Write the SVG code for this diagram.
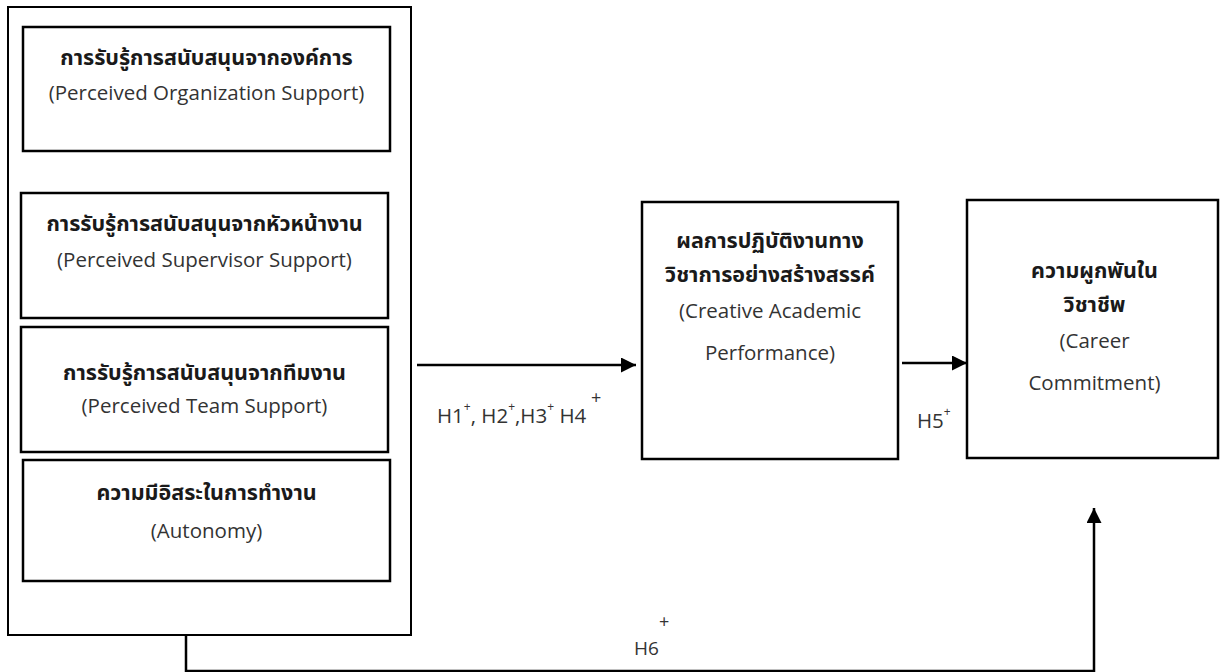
<svg xmlns="http://www.w3.org/2000/svg" width="1220" height="672" viewBox="0 0 1220 672">
<style>
.box{fill:#fff;stroke:#000;stroke-width:2.5}
.outer{fill:#fff;stroke:#000;stroke-width:2}
.th{font-family:"Noto Sans Thai","Tahoma","Leelawadee UI","Noto Sans","DejaVu Sans",sans-serif;font-weight:bold;font-size:21.5px;fill:#1a1a1a;text-anchor:middle}
.en{font-family:"Open Sans","Noto Sans",sans-serif;font-size:20.5px;fill:#333;text-anchor:middle}
.lbl{font-family:"Open Sans","Noto Sans",sans-serif;font-size:20.5px;fill:#333}
.sup{font-size:12px}
.bigsup{font-size:18px}
.conn{fill:none;stroke:#000;stroke-width:2.5}
</style>
<defs>
<marker id="arr" markerUnits="userSpaceOnUse" markerWidth="16" markerHeight="16" refX="15" refY="7.5" orient="auto">
<path d="M0,0 L15,7.5 L0,15 z" fill="#000"/>
</marker>
</defs>
<g id="outer-group">
<rect class="outer" x="8" y="7" width="403" height="628"/>
</g>
<g id="node-pos">
<rect class="box" x="23" y="27" width="367" height="124"/>
<text class="th" x="206.5" y="65">การรับรู้การสนับสนุนจากองค์การ</text>
<text class="en" x="206.5" y="100">(Perceived Organization Support)</text>
</g>
<g id="node-pss">
<rect class="box" x="21" y="193" width="367" height="125"/>
<text class="th" x="204.5" y="231">การรับรู้การสนับสนุนจากหัวหน้างาน</text>
<text class="en" x="204.5" y="267">(Perceived Supervisor Support)</text>
</g>
<g id="node-pts">
<rect class="box" x="21" y="327" width="367" height="125"/>
<text class="th" x="204.5" y="380">การรับรู้การสนับสนุนจากทีมงาน</text>
<text class="en" x="204.5" y="413">(Perceived Team Support)</text>
</g>
<g id="node-autonomy">
<rect class="box" x="23" y="460" width="367" height="121"/>
<text class="th" x="206.5" y="500">ความมีอิสระในการทำงาน</text>
<text class="en" x="206.5" y="538">(Autonomy)</text>
</g>
<g id="node-cap">
<rect class="box" x="642" y="202" width="256" height="257"/>
<text class="th" x="770" y="248">ผลการปฏิบัติงานทาง</text>
<text class="th" x="770" y="282">วิชาการอย่างสร้างสรรค์</text>
<text class="en" x="770" y="318">(Creative Academic</text>
<text class="en" x="770" y="360">Performance)</text>
</g>
<g id="node-career">
<rect class="box" x="967" y="200" width="251" height="258"/>
<text class="th" x="1094.5" y="278">ความผูกพันใน</text>
<text class="th" x="1094.5" y="312">วิชาชีพ</text>
<text class="en" x="1094.5" y="348">(Career</text>
<text class="en" x="1094.5" y="390">Commitment)</text>
</g>
<g id="connectors">
<path class="conn" d="M417,365 L636,365" marker-end="url(#arr)"/>
<path class="conn" d="M902,363 L967,363" marker-end="url(#arr)"/>
<path class="conn" d="M186,635 L186,671 L1094,671 L1094,508" marker-end="url(#arr)"/>
<text class="lbl" x="437" y="423">H1<tspan class="sup" dy="-12">+</tspan><tspan dy="12">, H2</tspan><tspan class="sup" dy="-12">+</tspan><tspan dy="12">,H3</tspan><tspan class="sup" dy="-12">+</tspan><tspan dy="12"> H4</tspan><tspan class="bigsup" x="591" y="404">+</tspan></text>
<text class="lbl" x="917" y="428">H5<tspan class="sup" dy="-12">+</tspan></text>
<text class="lbl" x="634" y="655" style="font-size:19px">H6<tspan class="bigsup" x="659" y="628">+</tspan></text>
</g>
</svg>
